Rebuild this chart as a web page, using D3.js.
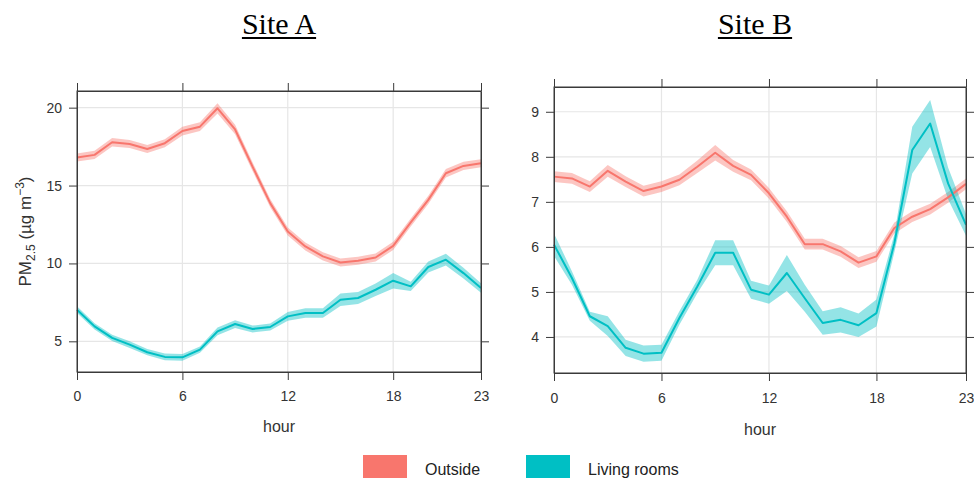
<!DOCTYPE html>
<html><head><meta charset="utf-8">
<script src="https://cdn.jsdelivr.net/npm/d3@7"></script>
<style>
body{margin:0;background:#fff}
svg{display:block}
text{font-family:"Liberation Sans",Arial,sans-serif}
</style>
</head><body>
<svg id="chart" width="974" height="478"></svg>
<script>
// ---------- data ----------
const hours = [0,1,2,3,4,5,6,7,8,9,10,11,12,13,14,15,16,17,18,19,20,21,22,23];
const hourTicks = [0,6,12,18,23];
const seriesNames = ["Outside","Living rooms"];
const seriesColors = ["#F8766D","#00BFC4"];

const siteATicks = [5,10,15,20];
const siteAOutside = [16.8,16.97,17.78,17.67,17.35,17.72,18.5,18.78,19.96,18.6,16.2,13.87,12.05,11.09,10.45,10.06,10.17,10.38,11.13,12.63,14.08,15.79,16.26,16.43];
const siteAOutsideCI = [0.26,0.26,0.28,0.26,0.26,0.26,0.28,0.28,0.33,0.3,0.28,0.26,0.26,0.26,0.26,0.26,0.26,0.26,0.26,0.26,0.26,0.28,0.26,0.26];
const siteALiving = [7.03,5.96,5.22,4.79,4.3,4.0,3.97,4.47,5.64,6.11,5.79,5.92,6.6,6.82,6.82,7.67,7.78,8.31,8.89,8.53,9.77,10.24,9.38,8.42];
const siteALivingCI = [0.22,0.2,0.2,0.22,0.2,0.22,0.22,0.2,0.25,0.25,0.22,0.22,0.28,0.3,0.3,0.4,0.38,0.4,0.5,0.3,0.35,0.38,0.35,0.3];

const siteBTicks = [4,5,6,7,8,9];
const siteBOutside = [7.56,7.52,7.34,7.69,7.45,7.24,7.34,7.49,7.78,8.09,7.8,7.6,7.19,6.67,6.06,6.06,5.9,5.65,5.79,6.42,6.67,6.84,7.1,7.4];
const siteBOutsideCI = [0.12,0.12,0.12,0.13,0.12,0.12,0.12,0.12,0.14,0.17,0.13,0.12,0.12,0.12,0.12,0.12,0.12,0.12,0.12,0.12,0.12,0.12,0.12,0.12];
const siteBLiving = [6.05,5.31,4.46,4.24,3.76,3.63,3.65,4.42,5.12,5.87,5.87,5.05,4.94,5.42,4.86,4.31,4.38,4.26,4.53,6.08,8.15,8.74,7.41,6.49];
const siteBLivingCI = [0.25,0.15,0.1,0.22,0.18,0.18,0.18,0.15,0.15,0.28,0.28,0.2,0.2,0.4,0.3,0.26,0.28,0.26,0.3,0.2,0.52,0.52,0.35,0.24];

// ---------- layout ----------
const panels = [
  {title:"Site A", left:77, right:481, top:91, bottom:372, yDomain:[3.03,21.07], yTicks:siteATicks,
   series:[[siteAOutside,siteAOutsideCI],[siteALiving,siteALivingCI]], ylabel:true, labelPad:11, hourY:432},
  {title:"Site B", left:554, right:966, top:87, bottom:373, yDomain:[3.2,9.55], yTicks:siteBTicks,
   series:[[siteBOutside,siteBOutsideCI],[siteBLiving,siteBLivingCI]], ylabel:false, labelPad:12, hourY:435}
];

const svg = d3.select("#chart");
const axisColor = "#3a3a3a";
const gridColor = "#e6e6e6";

panels.forEach(p => {
  const x = d3.scaleLinear().domain([0,23]).range([p.left,p.right]);
  const y = d3.scaleLinear().domain(p.yDomain).range([p.bottom,p.top]);
  const g = svg.append("g");

  // grid
  g.selectAll(".hg").data(p.yTicks).join("line")
    .attr("x1",p.left).attr("x2",p.right)
    .attr("y1",d=>y(d)).attr("y2",d=>y(d))
    .attr("stroke",gridColor).attr("stroke-width",1.2);
  g.selectAll(".vg").data(hourTicks.slice(1,4)).join("line")
    .attr("x1",d=>x(d)).attr("x2",d=>x(d))
    .attr("y1",p.top).attr("y2",p.bottom)
    .attr("stroke",gridColor).attr("stroke-width",1.2);

  // bands and lines
  p.series.forEach((s,i) => {
    const vals = s[0], ci = s[1];
    const area = d3.area()
      .x((d,j)=>x(hours[j]))
      .y0((d,j)=>y(vals[j]-ci[j]))
      .y1((d,j)=>y(vals[j]+ci[j]));
    g.append("path").datum(vals).attr("d",area)
      .attr("fill",seriesColors[i]).attr("fill-opacity",0.42).attr("stroke","none");
  });
  p.series.forEach((s,i) => {
    const vals = s[0];
    const line = d3.line().x((d,j)=>x(hours[j])).y(d=>y(d));
    g.append("path").datum(vals).attr("d",line)
      .attr("fill","none").attr("stroke",seriesColors[i]).attr("stroke-width",2)
      .attr("stroke-linejoin","round");
  });

  // axes
  const styleAxis = sel => {
    sel.selectAll("line").attr("stroke",axisColor);
    sel.selectAll("path").attr("stroke",axisColor);
    sel.selectAll("text").attr("fill","#333").style("font-size","14px")
      .style("font-family",'"Liberation Sans",Arial,sans-serif');
  };
  g.append("g").attr("transform",`translate(${p.left},0)`)
    .call(d3.axisLeft(y).tickValues(p.yTicks).tickSize(8).tickSizeOuter(0).tickPadding(7).tickFormat(d3.format("d")))
    .call(styleAxis);
  g.append("g").attr("transform",`translate(${p.right},0)`)
    .call(d3.axisRight(y).tickValues(p.yTicks).tickSize(8).tickSizeOuter(0).tickFormat(""))
    .call(styleAxis);
  g.append("g").attr("transform",`translate(0,${p.bottom})`)
    .call(d3.axisBottom(x).tickValues(hourTicks).tickSize(8).tickSizeOuter(0).tickPadding(p.labelPad).tickFormat(d3.format("d")))
    .call(styleAxis);
  g.append("g").attr("transform",`translate(0,${p.top})`)
    .call(d3.axisTop(x).tickValues(hourTicks).tickSize(8).tickSizeOuter(0).tickFormat(""))
    .call(styleAxis);
  g.append("rect").attr("x",p.left).attr("y",p.top)
    .attr("width",p.right-p.left).attr("height",p.bottom-p.top)
    .attr("fill","none").attr("stroke",axisColor).attr("stroke-width",1);

  // x label
  g.append("text").attr("x",(p.left+p.right)/2).attr("y",p.hourY)
    .attr("text-anchor","middle").attr("fill","#333").style("font-size","16px").text("hour");

  // title
  const cx = (p.left+p.right)/2 - (p.ylabel ? 0 : 5);
  const t = svg.append("text").attr("x",cx).attr("y",34)
    .attr("text-anchor","middle").attr("fill","#000")
    .style("font-family",'"Liberation Serif","Times New Roman",serif').style("font-size","30px")
    .text(p.title);
  const w = t.node().getComputedTextLength();
  svg.append("line").attr("x1",cx-w/2).attr("x2",cx+w/2).attr("y1",38).attr("y2",38)
    .attr("stroke","#000").attr("stroke-width",1.8);

  // y label
  if (p.ylabel) {
    const yl = svg.append("text")
      .attr("transform",`translate(31,${(p.top+p.bottom)/2}) rotate(-90)`)
      .attr("text-anchor","middle").attr("fill","#333").style("font-size","17px");
    yl.append("tspan").text("PM");
    yl.append("tspan").attr("dy",4).style("font-size","12px").text("2.5");
    yl.append("tspan").attr("dy",-4).text(" (\u00B5g m");
    yl.append("tspan").attr("dy",-7).style("font-size","12px").text("\u22123");
    yl.append("tspan").attr("dy",7).text(")");
  }
});

// legend
const legendX = [363,526];
const legendTextX = [425,588];
seriesNames.forEach((n,i) => {
  svg.append("rect").attr("x",legendX[i]).attr("y",455).attr("width",44).attr("height",23)
    .attr("fill",seriesColors[i]);
  svg.append("text").attr("x",legendTextX[i]).attr("y",475).attr("fill","#222")
    .style("font-size","16px").text(n);
});
</script>
</body></html>
